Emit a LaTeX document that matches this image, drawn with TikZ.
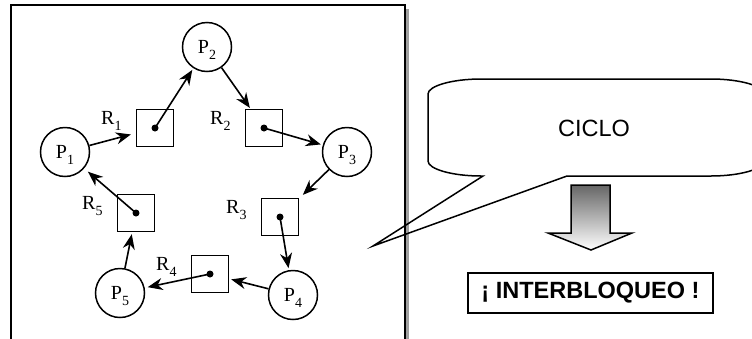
\documentclass[tikz,border=0pt]{standalone}
\usepackage{fontspec}
\setmainfont{Liberation Serif}
\setsansfont{Liberation Sans}
\usetikzlibrary{calc, positioning, arrows.meta}

% letter with a lowered index
\newcommand{\lbl}[2]{#1\raisebox{-6pt}[0pt][0pt]{\fontsize{14}{14}\selectfont #2}}

\begin{document}
\begin{tikzpicture}[x=1pt, y=-1pt, >={Stealth[length=15pt, width=12pt]},
  proc/.style={draw, circle, line width=1.5pt, minimum size=49pt, inner sep=0pt, font=\fontsize{20}{24}\selectfont},
  res/.style={draw, rectangle, line width=1.5pt, minimum size=37pt, inner sep=0pt},
  reslabel/.style={inner sep=0pt, font=\fontsize{20}{24}\selectfont, yshift=10.5pt},
  flow/.style={->, line width=1.6pt, shorten >=2pt}]

  \useasboundingbox (0,0) rectangle (752,338);
  \clip (0,0) rectangle (752,338);

  % Frame with shadow
  \fill[gray!75] (15,9) rectangle (409,351);
  \draw[line width=1.6pt, fill=white] (11,5) rectangle (405,347);

  % Processes
  \node[proc] (P1) at (65,152) {\lbl{P}{1}};
  \node[proc] (P2) at (207,47) {\lbl{P}{2}};
  \node[proc] (P3) at (347,152) {\lbl{P}{3}};
  \node[proc] (P4) at (293,295) {\lbl{P}{4}};
  \node[proc] (P5) at (120,293) {\lbl{P}{5}};

  % Resources
  \node[res] (R1) at (155,128) {};
  \node[res] (R2) at (264,128) {};
  \node[res] (R3) at (280,217) {};
  \node[res] (R4) at (210,274) {};
  \node[res] (R5) at (136,213) {};
  \foreach \r in {R1,R2,R3,R4,R5}
    \fill (\r) circle (3.5pt);

  % Resource labels
  \node[reslabel, left=14pt of R1] (l1) {\lbl{R}{1}};
  \node[reslabel, left=14pt of R2] (l2) {\lbl{R}{2}};
  \node[reslabel, left=14pt of R3] (l3) {\lbl{R}{3}};
  \node[reslabel, left=14pt of R4] (l4) {\lbl{R}{4}};
  \node[reslabel, left=14pt of R5] (l5) {\lbl{R}{5}};

  % Requests and assignments
  \draw[flow, shorten >=5pt] (P1) -- (R1);
  \draw[flow] (R1.center) -- (P2);
  \draw[flow, shorten >=1pt] (P2) -- (R2);
  \draw[flow] (R2.center) -- (P3);
  \draw[flow, shorten >=5pt] (P3) -- (R3);
  \draw[flow] (R3.center) -- (P4);
  \draw[flow] (P4) -- (R4);
  \draw[flow, shorten >=3pt] (R4.center) -- (P5);
  \draw[flow] (P5) -- (R5);
  \draw[flow, shorten >=5pt] (R5.center) -- (P1);

  % Callout
  \draw[line width=1.5pt] (428,94) -- (428,161)
    .. controls (428,169) and (452,176) .. (481,176)
    -- (483,176) -- (373,246) -- (567,176) -- (711,176)
    .. controls (740,176) and (764,169) .. (764,161)
    -- (764,94)
    .. controls (764,86) and (740,79) .. (711,79)
    -- (481,79)
    .. controls (452,79) and (428,86) .. (428,94) -- cycle;
  \node[font=\sffamily\fontsize{23.5}{28}\selectfont] (ciclo) at (594,128) {CICLO};

  % Down arrow
  \shadedraw[top color=black!60, bottom color=white, line width=1.5pt]
    (571,185) -- (610,185) -- (610,233) -- (632,233) -- (591,250)
    -- (548,233) -- (571,233) -- cycle;

  % Result
  \node[draw, line width=1.6pt, minimum width=245pt, minimum height=40pt, inner sep=0pt,
    font=\sffamily\bfseries\fontsize{23.5}{28}\selectfont] (dead) at (590.5,293) {¡ INTERBLOQUEO !};

\end{tikzpicture}
\end{document}
